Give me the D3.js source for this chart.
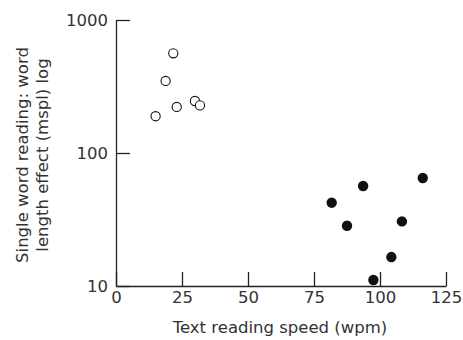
<!DOCTYPE html>
<html>
<head>
<meta charset="utf-8">
<script src="https://cdn.jsdelivr.net/npm/d3@7"></script>
<style>
  body { margin: 0; background: #fff; }
  text { font-family: "DejaVu Sans", sans-serif; fill: #333; }
</style>
</head>
<body>
<div id="chart"></div>
<script>
// slow readers (open circles)
const slowSpeed = [21.7, 18.8, 29.9, 31.8, 23.0, 15.0];
const slowEffect = [562, 348, 246, 228, 222, 189];
// fast readers (filled circles)
const fastSpeed = [116.2, 93.6, 81.7, 108.3, 87.5, 104.3, 97.5];
const fastEffect = [64.9, 56.5, 42.3, 30.6, 28.4, 16.5, 11.1];

const xTicks = [0, 25, 50, 75, 100, 125];
const yTicks = [10, 100, 1000];

const width = 463, height = 340;
const margin = { top: 20, right: 17, bottom: 54, left: 116 };
const font = '"DejaVu Sans", sans-serif';

const svg = d3.select('#chart').append('svg')
  .attr('width', width)
  .attr('height', height);

const g = svg.append('g')
  .attr('transform', `translate(${margin.left},${margin.top})`);

const w = width - margin.left - margin.right;
const h = height - margin.top - margin.bottom;

const x = d3.scaleLinear().domain([0, 125]).range([0, w]);
const y = d3.scaleLog().domain([10, 1000]).range([h, 0]);

const xAxis = g.append('g')
  .attr('transform', `translate(0,${h})`)
  .call(d3.axisBottom(x).tickValues(xTicks).tickSizeInner(-14).tickSizeOuter(0).tickPadding(5));

const yAxis = g.append('g')
  .call(d3.axisLeft(y).tickValues(yTicks).tickFormat(d3.format('d')).tickSizeInner(-14).tickSizeOuter(0).tickPadding(8));

[xAxis, yAxis].forEach(a => {
  a.selectAll('path, line').attr('stroke', '#222').attr('stroke-width', 1.3);
  a.selectAll('text').attr('font-size', 16.5).attr('fill', '#333')
    .attr('font-family', font);
});

const slow = slowSpeed.map((s, i) => ({ s, e: slowEffect[i] }));
const fast = fastSpeed.map((s, i) => ({ s, e: fastEffect[i] }));

g.selectAll('.slow').data(slow).enter().append('circle')
  .attr('class', 'slow')
  .attr('cx', d => x(d.s))
  .attr('cy', d => y(d.e))
  .attr('r', 4.6)
  .attr('fill', '#fff')
  .attr('stroke', '#111')
  .attr('stroke-width', 1.1);

g.selectAll('.fast').data(fast).enter().append('circle')
  .attr('class', 'fast')
  .attr('cx', d => x(d.s))
  .attr('cy', d => y(d.e))
  .attr('r', 5.2)
  .attr('fill', '#111');

// axis titles
svg.append('text')
  .attr('x', margin.left + w / 2 - 1)
  .attr('y', 333)
  .attr('text-anchor', 'middle')
  .attr('font-size', 16.5)
  .text('Text reading speed (wpm)');

const yTitle = svg.append('text')
  .attr('transform', 'translate(0,155) rotate(-90)')
  .attr('text-anchor', 'middle')
  .attr('font-size', 16.5);
yTitle.append('tspan').attr('x', 0).attr('y', 28).text('Single word reading: word');
yTitle.append('tspan').attr('x', 0).attr('y', 48).text('length effect (mspl) log');
</script>
</body>
</html>
